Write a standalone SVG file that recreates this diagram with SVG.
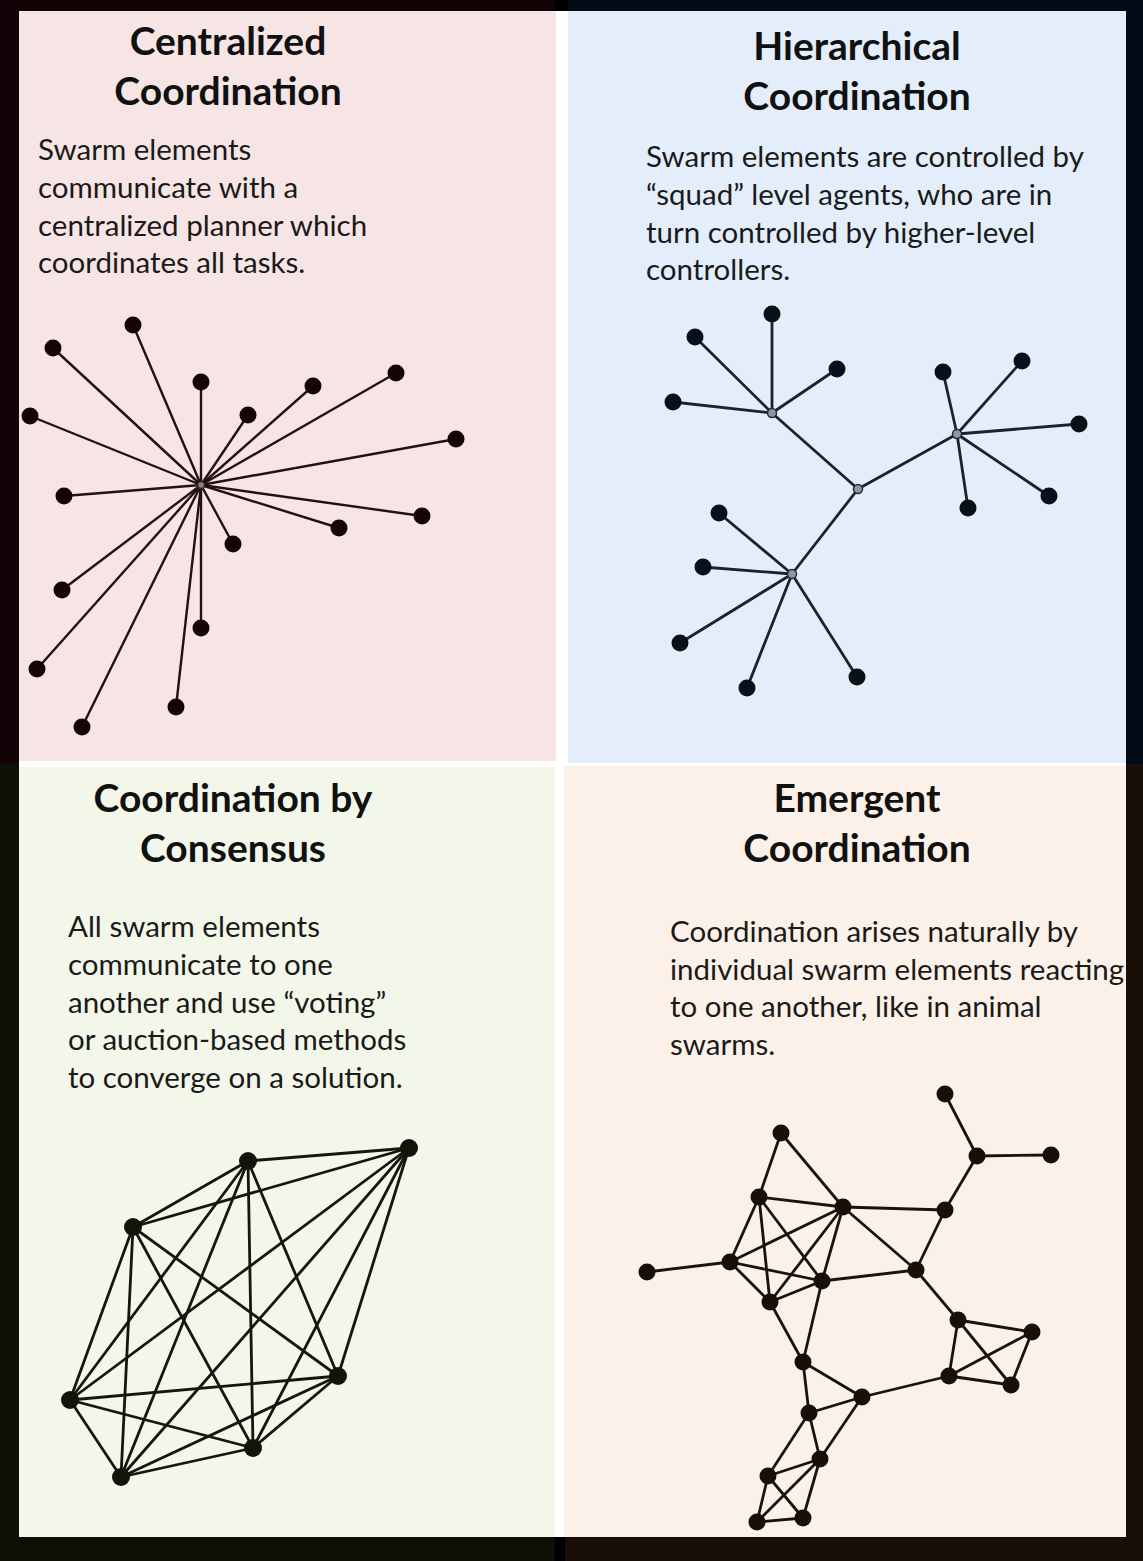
<svg xmlns="http://www.w3.org/2000/svg" width="1143" height="1561" viewBox="0 0 1143 1561">
<style>
.title{font-family:Lato,"Open Sans","Liberation Sans",sans-serif;font-weight:bold;font-size:39px;fill:#111;text-anchor:middle}
.body{font-family:Lato,"Open Sans","Liberation Sans",sans-serif;font-size:29.5px;fill:#1a1a1a}
.e1{stroke:#241012;stroke-width:2.4;fill:none}
.e2{stroke:#182230;stroke-width:2.8;fill:none}
.e3{stroke:#14180c;stroke-width:2.8;fill:none}
.e4{stroke:#1c120a;stroke-width:2.8;fill:none}
.n1{fill:#150508}
.n2{fill:#0a1018}
.n3{fill:#10140a}
.n4{fill:#1a0f08}
.hub{stroke:#2a2a2a;stroke-width:1.5}
</style>
<!-- frame -->
<rect x="0" y="0" width="562" height="764" fill="#120306"/>
<rect x="562" y="0" width="581" height="764" fill="#020c17"/>
<rect x="0" y="764" width="562" height="797" fill="#0c1006"/>
<rect x="562" y="764" width="581" height="797" fill="#1a0f08"/>
<rect x="555" y="0" width="13" height="11" fill="#000"/>
<rect x="555" y="1537" width="10" height="24" fill="#000"/>
<rect x="19" y="11" width="1107" height="1526" fill="#ffffff"/>
<rect x="19" y="11" width="537" height="750" fill="#f7e4e4"/>
<rect x="568" y="11" width="558" height="752" fill="#e4eefa"/>
<rect x="19" y="767" width="536" height="770" fill="#f3f7ea"/>
<rect x="564" y="766" width="562" height="771" fill="#fcf1e8"/>

<!-- texts -->
<g id="panel-centralized-text">
<text class="title" x="228" y="55">Centralized</text>
<text class="title" x="228" y="105">Coordination</text>
<text class="body" x="38" y="160">Swarm elements</text>
<text class="body" x="38" y="198">communicate with a</text>
<text class="body" x="38" y="236">centralized planner which</text>
<text class="body" x="38" y="273">coordinates all tasks.</text>
</g>
<g id="panel-hierarchical-text">
<text class="title" x="857" y="60">Hierarchical</text>
<text class="title" x="857" y="110">Coordination</text>
<text class="body" x="646" y="167">Swarm elements are controlled by</text>
<text class="body" x="646" y="205">“squad” level agents, who are in</text>
<text class="body" x="646" y="243">turn controlled by higher-level</text>
<text class="body" x="646" y="280">controllers.</text>
</g>
<g id="panel-consensus-text">
<text class="title" x="233" y="812">Coordination by</text>
<text class="title" x="233" y="862">Consensus</text>
<text class="body" x="68" y="937">All swarm elements</text>
<text class="body" x="68" y="975">communicate to one</text>
<text class="body" x="68" y="1013">another and use “voting”</text>
<text class="body" x="68" y="1050">or auction-based methods</text>
<text class="body" x="68" y="1088">to converge on a solution.</text>
</g>
<g id="panel-emergent-text">
<text class="title" x="857" y="812">Emergent</text>
<text class="title" x="857" y="862">Coordination</text>
<text class="body" x="670" y="942">Coordination arises naturally by</text>
<text class="body" x="670" y="980">individual swarm elements reacting</text>
<text class="body" x="670" y="1017">to one another, like in animal</text>
<text class="body" x="670" y="1055">swarms.</text>
</g>

<!-- connectors -->
<g id="connectors">
<g class="e1">
<line x1="201" y1="485" x2="133" y2="325"/>
<line x1="201" y1="485" x2="53" y2="348"/>
<line x1="201" y1="485" x2="201" y2="382"/>
<line x1="201" y1="485" x2="313" y2="386"/>
<line x1="201" y1="485" x2="396" y2="373"/>
<line x1="201" y1="485" x2="248" y2="415"/>
<line x1="201" y1="485" x2="30" y2="416"/>
<line x1="201" y1="485" x2="456" y2="439"/>
<line x1="201" y1="485" x2="64" y2="496"/>
<line x1="201" y1="485" x2="422" y2="516"/>
<line x1="201" y1="485" x2="339" y2="528"/>
<line x1="201" y1="485" x2="233" y2="544"/>
<line x1="201" y1="485" x2="62" y2="590"/>
<line x1="201" y1="485" x2="201" y2="628"/>
<line x1="201" y1="485" x2="37" y2="669"/>
<line x1="201" y1="485" x2="176" y2="707"/>
<line x1="201" y1="485" x2="82" y2="727"/>
</g>
<g class="e2">
<line x1="858" y1="489" x2="772" y2="413"/>
<line x1="858" y1="489" x2="957" y2="434"/>
<line x1="858" y1="489" x2="792" y2="574"/>
<line x1="772" y1="413" x2="695" y2="337"/>
<line x1="772" y1="413" x2="772" y2="314"/>
<line x1="772" y1="413" x2="837" y2="369"/>
<line x1="772" y1="413" x2="673" y2="402"/>
<line x1="957" y1="434" x2="943" y2="372"/>
<line x1="957" y1="434" x2="1022" y2="361"/>
<line x1="957" y1="434" x2="1079" y2="424"/>
<line x1="957" y1="434" x2="1049" y2="496"/>
<line x1="957" y1="434" x2="968" y2="508"/>
<line x1="792" y1="574" x2="719" y2="513"/>
<line x1="792" y1="574" x2="703" y2="567"/>
<line x1="792" y1="574" x2="680" y2="643"/>
<line x1="792" y1="574" x2="747" y2="688"/>
<line x1="792" y1="574" x2="857" y2="677"/>
</g>
<g class="e3">
<line x1="409" y1="1148" x2="248" y2="1161"/>
<line x1="409" y1="1148" x2="133" y2="1227"/>
<line x1="409" y1="1148" x2="338" y2="1376"/>
<line x1="409" y1="1148" x2="70" y2="1400"/>
<line x1="409" y1="1148" x2="253" y2="1448"/>
<line x1="409" y1="1148" x2="121" y2="1477"/>
<line x1="248" y1="1161" x2="133" y2="1227"/>
<line x1="248" y1="1161" x2="338" y2="1376"/>
<line x1="248" y1="1161" x2="70" y2="1400"/>
<line x1="248" y1="1161" x2="253" y2="1448"/>
<line x1="248" y1="1161" x2="121" y2="1477"/>
<line x1="133" y1="1227" x2="338" y2="1376"/>
<line x1="133" y1="1227" x2="70" y2="1400"/>
<line x1="133" y1="1227" x2="253" y2="1448"/>
<line x1="133" y1="1227" x2="121" y2="1477"/>
<line x1="338" y1="1376" x2="70" y2="1400"/>
<line x1="338" y1="1376" x2="253" y2="1448"/>
<line x1="338" y1="1376" x2="121" y2="1477"/>
<line x1="70" y1="1400" x2="253" y2="1448"/>
<line x1="70" y1="1400" x2="121" y2="1477"/>
<line x1="253" y1="1448" x2="121" y2="1477"/>
</g>
<g class="e4">
<line x1="945" y1="1094" x2="977" y2="1156"/>
<line x1="977" y1="1156" x2="1051" y2="1155"/>
<line x1="977" y1="1156" x2="945" y2="1210"/>
<line x1="945" y1="1210" x2="843" y2="1207"/>
<line x1="945" y1="1210" x2="916" y2="1270"/>
<line x1="781" y1="1133" x2="759" y2="1197"/>
<line x1="781" y1="1133" x2="843" y2="1207"/>
<line x1="759" y1="1197" x2="843" y2="1207"/>
<line x1="759" y1="1197" x2="730" y2="1262"/>
<line x1="759" y1="1197" x2="770" y2="1302"/>
<line x1="759" y1="1197" x2="822" y2="1281"/>
<line x1="843" y1="1207" x2="730" y2="1262"/>
<line x1="843" y1="1207" x2="770" y2="1302"/>
<line x1="843" y1="1207" x2="822" y2="1281"/>
<line x1="843" y1="1207" x2="916" y2="1270"/>
<line x1="647" y1="1272" x2="730" y2="1262"/>
<line x1="730" y1="1262" x2="822" y2="1281"/>
<line x1="730" y1="1262" x2="770" y2="1302"/>
<line x1="770" y1="1302" x2="822" y2="1281"/>
<line x1="822" y1="1281" x2="916" y2="1270"/>
<line x1="822" y1="1281" x2="803" y2="1362"/>
<line x1="770" y1="1302" x2="803" y2="1362"/>
<line x1="916" y1="1270" x2="958" y2="1320"/>
<line x1="958" y1="1320" x2="1032" y2="1332"/>
<line x1="958" y1="1320" x2="949" y2="1376"/>
<line x1="958" y1="1320" x2="1011" y2="1385"/>
<line x1="1032" y1="1332" x2="949" y2="1376"/>
<line x1="1032" y1="1332" x2="1011" y2="1385"/>
<line x1="949" y1="1376" x2="1011" y2="1385"/>
<line x1="949" y1="1376" x2="862" y2="1397"/>
<line x1="803" y1="1362" x2="862" y2="1397"/>
<line x1="803" y1="1362" x2="809" y2="1413"/>
<line x1="862" y1="1397" x2="809" y2="1413"/>
<line x1="862" y1="1397" x2="820" y2="1459"/>
<line x1="809" y1="1413" x2="820" y2="1459"/>
<line x1="809" y1="1413" x2="768" y2="1476"/>
<line x1="820" y1="1459" x2="768" y2="1476"/>
<line x1="820" y1="1459" x2="757" y2="1522"/>
<line x1="820" y1="1459" x2="803" y2="1518"/>
<line x1="768" y1="1476" x2="757" y2="1522"/>
<line x1="768" y1="1476" x2="803" y2="1518"/>
<line x1="757" y1="1522" x2="803" y2="1518"/>
</g>
</g>

<!-- nodes -->
<g id="nodes-centralized" class="n1">
<circle id="c-hub" cx="201" cy="485" r="3.5" fill="#8a8080" class="hub"/>
<circle id="c1" cx="133" cy="325" r="8.5"/>
<circle id="c2" cx="53" cy="348" r="8.5"/>
<circle id="c3" cx="201" cy="382" r="8.5"/>
<circle id="c4" cx="313" cy="386" r="8.5"/>
<circle id="c5" cx="396" cy="373" r="8.5"/>
<circle id="c6" cx="248" cy="415" r="8.5"/>
<circle id="c7" cx="30" cy="416" r="8.5"/>
<circle id="c8" cx="456" cy="439" r="8.5"/>
<circle id="c9" cx="64" cy="496" r="8.5"/>
<circle id="c10" cx="422" cy="516" r="8.5"/>
<circle id="c11" cx="339" cy="528" r="8.5"/>
<circle id="c12" cx="233" cy="544" r="8.5"/>
<circle id="c13" cx="62" cy="590" r="8.5"/>
<circle id="c14" cx="201" cy="628" r="8.5"/>
<circle id="c15" cx="37" cy="669" r="8.5"/>
<circle id="c16" cx="176" cy="707" r="8.5"/>
<circle id="c17" cx="82" cy="727" r="8.5"/>
</g>
<g id="nodes-hierarchical" class="n2">
<circle id="h-top" cx="858" cy="489" r="4.5" fill="#8e98a2" class="hub"/>
<circle id="h-a" cx="772" cy="413" r="4.5" fill="#8e98a2" class="hub"/>
<circle id="h-b" cx="957" cy="434" r="4.5" fill="#8e98a2" class="hub"/>
<circle id="h-c" cx="792" cy="574" r="4.5" fill="#8e98a2" class="hub"/>
<circle id="h1" cx="695" cy="337" r="8.5"/>
<circle id="h2" cx="772" cy="314" r="8.5"/>
<circle id="h3" cx="837" cy="369" r="8.5"/>
<circle id="h4" cx="673" cy="402" r="8.5"/>
<circle id="h5" cx="943" cy="372" r="8.5"/>
<circle id="h6" cx="1022" cy="361" r="8.5"/>
<circle id="h7" cx="1079" cy="424" r="8.5"/>
<circle id="h8" cx="1049" cy="496" r="8.5"/>
<circle id="h9" cx="968" cy="508" r="8.5"/>
<circle id="h10" cx="719" cy="513" r="8.5"/>
<circle id="h11" cx="703" cy="567" r="8.5"/>
<circle id="h12" cx="680" cy="643" r="8.5"/>
<circle id="h13" cx="747" cy="688" r="8.5"/>
<circle id="h14" cx="857" cy="677" r="8.5"/>
</g>
<g id="nodes-consensus" class="n3">
<circle id="p1" cx="409" cy="1148" r="9"/>
<circle id="p2" cx="248" cy="1161" r="9"/>
<circle id="p3" cx="133" cy="1227" r="9"/>
<circle id="p4" cx="338" cy="1376" r="9"/>
<circle id="p5" cx="70" cy="1400" r="9"/>
<circle id="p6" cx="253" cy="1448" r="9"/>
<circle id="p7" cx="121" cy="1477" r="9"/>
</g>
<g id="nodes-emergent" class="n4">
<circle id="ea" cx="945" cy="1094" r="8.5"/>
<circle id="eb" cx="977" cy="1156" r="8.5"/>
<circle id="ec" cx="1051" cy="1155" r="8.5"/>
<circle id="ed" cx="781" cy="1133" r="8.5"/>
<circle id="ee" cx="759" cy="1197" r="8.5"/>
<circle id="ef" cx="843" cy="1207" r="8.5"/>
<circle id="eg" cx="945" cy="1210" r="8.5"/>
<circle id="eh" cx="647" cy="1272" r="8.5"/>
<circle id="ei" cx="730" cy="1262" r="8.5"/>
<circle id="ej" cx="822" cy="1281" r="8.5"/>
<circle id="ek" cx="916" cy="1270" r="8.5"/>
<circle id="el" cx="770" cy="1302" r="8.5"/>
<circle id="em" cx="958" cy="1320" r="8.5"/>
<circle id="en" cx="1032" cy="1332" r="8.5"/>
<circle id="eo" cx="949" cy="1376" r="8.5"/>
<circle id="ep" cx="1011" cy="1385" r="8.5"/>
<circle id="eq" cx="803" cy="1362" r="8.5"/>
<circle id="er" cx="862" cy="1397" r="8.5"/>
<circle id="es" cx="809" cy="1413" r="8.5"/>
<circle id="et" cx="820" cy="1459" r="8.5"/>
<circle id="eu" cx="768" cy="1476" r="8.5"/>
<circle id="ev" cx="757" cy="1522" r="8.5"/>
<circle id="ew" cx="803" cy="1518" r="8.5"/>
</g>
</svg>
